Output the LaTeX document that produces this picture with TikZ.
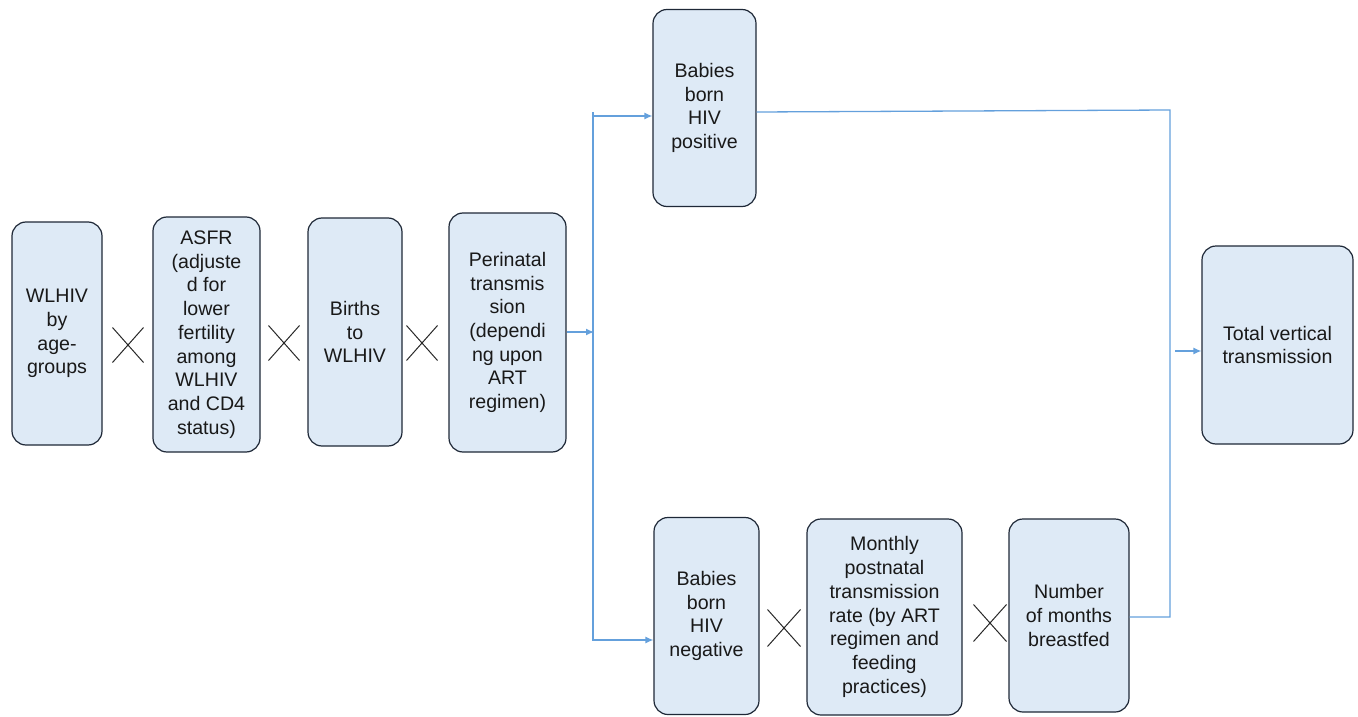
\documentclass[tikz,border=0pt]{standalone}
\usepackage{fontspec}
\setmainfont{Liberation Sans}
\usetikzlibrary{arrows.meta,shapes.misc}
\definecolor{boxfill}{RGB}{222,234,246}
\definecolor{boxline}{RGB}{30,40,55}
\definecolor{conncol}{RGB}{100,160,220}
\definecolor{crosscol}{RGB}{40,40,40}
\tikzset{
  flowbox/.style={draw=boxline, fill=boxfill, line width=1.2pt, rounded corners=14pt,
    align=center, inner sep=0pt, text=black!90,
    font=\fontsize{19.6}{23.7}\selectfont},
  conn/.style={draw=conncol, line width=1.3pt},
  connarrow/.style={conn, -{Latex[length=8pt,width=7pt]}},
  times/.style={cross out, draw=crosscol, line width=1pt, inner sep=0pt}
}
\begin{document}
\begin{tikzpicture}[x=1pt,y=-1pt]
\useasboundingbox (0,0) rectangle (1358,717);
% boxes
\node[flowbox, minimum width=90pt, minimum height=223pt] (w) at (57,333.5) {WLHIV\\by\\age-\\groups};
\node[flowbox, minimum width=107pt, minimum height=235pt] (asfr) at (206.5,334.5) {ASFR\\(adjuste\\d for\\lower\\fertility\\among\\WLHIV\\and CD4\\status)};
\node[flowbox, minimum width=94pt, minimum height=228pt] (births) at (355,332) {Births\\to\\WLHIV};
\node[flowbox, minimum width=117pt, minimum height=239pt] (peri) at (507.5,332.5) {Perinatal\\transmis\\sion\\(dependi\\ng upon\\ART\\regimen)};
\node[flowbox, minimum width=103pt, minimum height=197pt] (pos) at (704.5,108) {Babies\\born\\HIV\\positive};
\node[flowbox, minimum width=105pt, minimum height=197pt] (neg) at (706.5,616) {Babies\\born\\HIV\\negative};
\node[flowbox, minimum width=155pt, minimum height=196pt] (month) at (884.5,617) {Monthly\\postnatal\\transmission\\rate (by ART\\regimen and\\feeding\\practices)};
\node[flowbox, minimum width=120pt, minimum height=193pt] (num) at (1069,615.5) {Number\\of months\\breastfed};
\node[flowbox, minimum width=151pt, minimum height=198pt] (total) at (1277.5,345) {Total vertical\\transmission};
% multiplication marks
\node[times, minimum width=30pt, minimum height=34pt] (x1) at (128,345) {};
\node[times, minimum width=30pt, minimum height=34pt] (x2) at (284,343) {};
\node[times, minimum width=30pt, minimum height=34pt] (x3) at (422,343) {};
\node[times, minimum width=32pt, minimum height=36pt] (x4) at (784,628) {};
\node[times, minimum width=32pt, minimum height=36pt] (x5) at (990,623) {};
% connector points
\coordinate (st) at (593,112);
\coordinate (sa) at (593,116);
\coordinate (sb) at (593,641);
\coordinate (sc) at (593,640);
\coordinate (sj) at (594,332);
\coordinate (rt) at (1170,110);
\coordinate (rb) at (1170,617);
\coordinate (ta) at (1175,351);
% connectors
\draw[connarrow] (peri.east |- sj) -- (sj);
\draw[conn] (st) -- (sb);
\draw[connarrow] (sa) -- (sa -| pos.west);
\draw[connarrow] (sc) -- (sc -| neg.west);
\draw[conn] (pos.east |- 0,112) -- (rt) -- (rb) -- (rb -| num.east);
\draw[connarrow] (ta) -- (ta -| total.west);
\end{tikzpicture}
\end{document}
